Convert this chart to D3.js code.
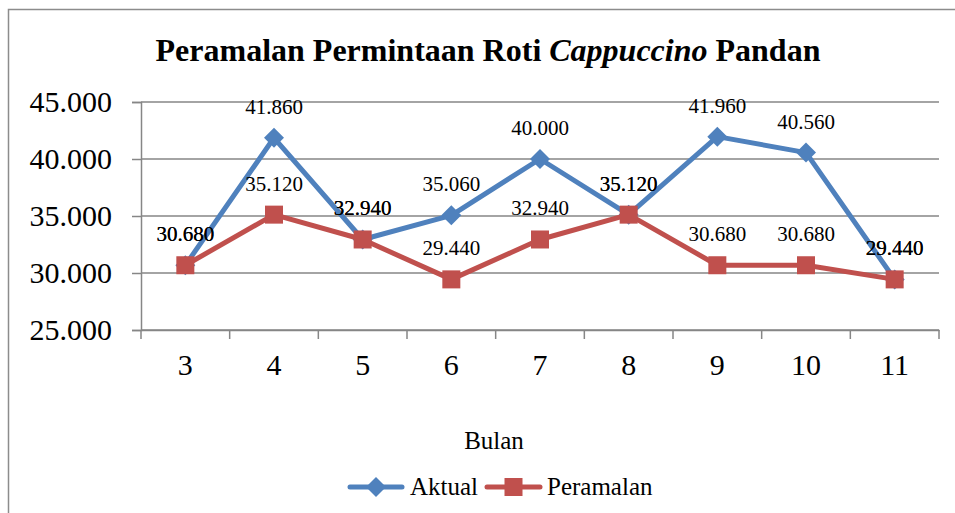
<!DOCTYPE html>
<html>
<head>
<meta charset="utf-8">
<script src="https://cdn.jsdelivr.net/npm/d3@7"></script>
<style>
  body { margin: 0; background: #fff; }
  svg text { font-family: "Liberation Serif", "Times New Roman", serif; fill: #000; }
</style>
</head>
<body>
<div id="chart"></div>
<script>
var months = ['3', '4', '5', '6', '7', '8', '9', '10', '11'],
    aktual = [30680, 41860, 32940, 35060, 40000, 35120, 41960, 40560, 29440],
    peramalan = [30680, 35120, 32940, 29440, 32940, 35120, 30680, 30680, 29440],
    yTicks = [25000, 30000, 35000, 40000, 45000],
    series = [
        { name: 'Aktual', values: aktual, color: '#4F81BD', marker: 'diamond' },
        { name: 'Peramalan', values: peramalan, color: '#C0504D', marker: 'square' }
    ];

var width = 955, height = 513,
    margin = { left: 141, right: 16, top: 102, bottom: 183 };

function label(v) {
    // 41860 -> 41.860
    return d3.format(',')(v).replace(/,/g, '.');
}

var svg = d3.select('#chart').append('svg')
    .attr('width', width)
    .attr('height', height);

// frame
svg.append('rect')
    .attr('x', 8.5).attr('y', 9.5)
    .attr('width', 960).attr('height', 520)
    .attr('fill', 'none')
    .attr('stroke', '#8c8c8c')
    .attr('stroke-width', 1.5);

var x = d3.scaleBand()
    .domain(months)
    .range([margin.left, width - margin.right]);

var y = d3.scaleLinear()
    .domain([25000, 45000])
    .range([height - margin.bottom, margin.top]);

// Title
var title = svg.append('text')
    .attr('x', 488).attr('y', 61)
    .attr('text-anchor', 'middle')
    .style('font-size', '32px')
    .style('font-weight', 'bold');
title.append('tspan').text('Peramalan Permintaan Roti ');
title.append('tspan').style('font-style', 'italic').text('Cappuccino');
title.append('tspan').text(' Pandan');

// Gridlines
svg.append('g')
    .selectAll('line')
    .data(yTicks)
    .enter().append('line')
    .attr('x1', margin.left).attr('x2', width - margin.right)
    .attr('y1', d => y(d)).attr('y2', d => y(d))
    .attr('stroke', '#868686')
    .attr('stroke-width', 1.5);

// Y axis
var yAxis = svg.append('g')
    .attr('transform', 'translate(' + margin.left + ',0)')
    .call(d3.axisLeft(y).tickValues(yTicks).tickSize(9).tickPadding(20).tickFormat(label));
yAxis.attr('font-family', null);
yAxis.selectAll('path, line').attr('stroke', '#868686').attr('stroke-width', 1.5);
yAxis.selectAll('text').style('font-size', '30px');

// X axis
var xAxis = svg.append('g')
    .attr('transform', 'translate(0,' + y(25000) + ')')
    .call(d3.axisBottom(x).tickSize(0).tickPadding(24));
xAxis.attr('font-family', null);
xAxis.select('path').attr('stroke', '#868686').attr('stroke-width', 1.5);
xAxis.selectAll('text').style('font-size', '30px');

// category boundary ticks
var bounds = months.map(m => x(m)).concat([x(months[months.length - 1]) + x.bandwidth()]);
svg.append('g')
    .selectAll('line')
    .data(bounds)
    .enter().append('line')
    .attr('x1', d => d).attr('x2', d => d)
    .attr('y1', y(25000)).attr('y2', y(25000) + 9)
    .attr('stroke', '#868686')
    .attr('stroke-width', 1.5);

// Axis title
svg.append('text')
    .attr('x', 494).attr('y', 449)
    .attr('text-anchor', 'middle')
    .style('font-size', '25px')
    .text('Bulan');

var line = d3.line()
    .x((d, i) => x(months[i]) + x.bandwidth() / 2)
    .y(d => y(d));

function drawMarker(g, type, color, cx, cy) {
    if (type === 'diamond') {
        g.append('path')
            .attr('d', 'M' + cx + ',' + (cy - 10) + 'L' + (cx + 10) + ',' + cy + 'L' + cx + ',' + (cy + 10) + 'L' + (cx - 10) + ',' + cy + 'Z')
            .attr('fill', color);
    } else {
        g.append('rect')
            .attr('x', cx - 9).attr('y', cy - 9)
            .attr('width', 18).attr('height', 18)
            .attr('fill', color);
    }
}

series.forEach(s => {
    var g = svg.append('g');
    g.append('path')
        .datum(s.values)
        .attr('d', line)
        .attr('fill', 'none')
        .attr('stroke', s.color)
        .attr('stroke-width', 5)
        .attr('stroke-linejoin', 'round');
    s.values.forEach((v, i) => {
        drawMarker(g, s.marker, s.color, x(months[i]) + x.bandwidth() / 2, y(v));
    });
});

// Data labels
series.forEach(s => {
    svg.append('g')
        .selectAll('text')
        .data(s.values)
        .enter().append('text')
        .attr('x', (d, i) => x(months[i]) + x.bandwidth() / 2)
        .attr('y', d => y(d) - 24)
        .attr('text-anchor', 'middle')
        .style('font-size', '21px')
        .text(d => label(d));
});

// Legend
var legend = svg.append('g');
var legendItems = [
    { s: series[0], x1: 350, x2: 402, tx: 410 },
    { s: series[1], x1: 487, x2: 540, tx: 547 }
];
legendItems.forEach(it => {
    legend.append('line')
        .attr('x1', it.x1).attr('x2', it.x2)
        .attr('y1', 487).attr('y2', 487)
        .attr('stroke', it.s.color)
        .attr('stroke-width', 5)
        .attr('stroke-linecap', 'round');
    drawMarker(legend, it.s.marker, it.s.color, (it.x1 + it.x2) / 2, 487);
    legend.append('text')
        .attr('x', it.tx).attr('y', 495)
        .style('font-size', '25px')
        .text(it.s.name);
});
</script>
</body>
</html>
